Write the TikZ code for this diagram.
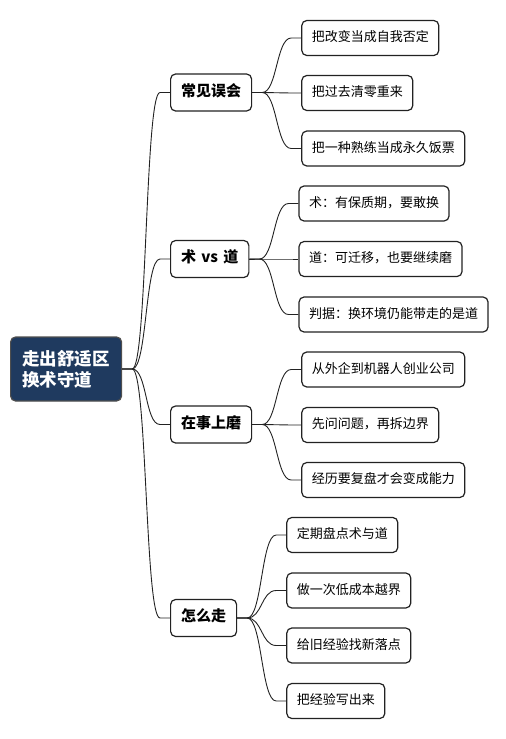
\documentclass[tikz,border=0pt]{standalone}
\usepackage{fontspec}
\setmainfont{Noto Sans CJK SC}
\usetikzlibrary{calc}
\definecolor{navy}{HTML}{1F3A5F}
\definecolor{edge}{HTML}{222222}
\begin{document}
\begin{tikzpicture}[x=1pt,y=-1pt,
  rootbox/.style={draw=edge!80, line width=1.2pt, fill=navy, rounded corners=5pt,
    text=white, font=\fontsize{17.5}{21}\selectfont\bfseries, align=left,
    text width=88pt, inner xsep=11.5pt, inner ysep=0pt, minimum height=64pt, anchor=west},
  topic/.style={draw=edge, line width=1.2pt, fill=white, rounded corners=5pt,
    font=\fontsize{15}{18}\selectfont\bfseries, inner xsep=10.5pt, inner ysep=0pt,
    text height=0.84em, text depth=0.1em, minimum height=37pt, anchor=west},
  leaf/.style={draw=edge, line width=1.2pt, fill=white, rounded corners=5pt,
    font=\fontsize{13}{16}\selectfont, inner xsep=10pt, inner ysep=0pt,
    text height=0.84em, text depth=0.1em, minimum height=35pt, anchor=west},
  link/.style={draw=edge, line width=0.9pt, to path={-- ++(10pt,0)
    .. controls +(15pt,0) and +(-15pt,0) .. ($(\tikztotarget)+(-10pt,0)$) -- (\tikztotarget)}}
]
\useasboundingbox (0,0) rectangle (506,739);

\node[rootbox] (r) at (10,369) {走出舒适区\\换术守道};

\node[topic] (a1) at (170,92.5) {常见误会};
\node[topic, minimum width=78pt] (a2) at (170,259) {术\hspace{0.35em}vs\hspace{0.35em}道};
\node[topic] (a3) at (170,424.5) {在事上磨};
\node[topic] (a4) at (170,618) {怎么走};

\foreach \t in {a1,a2,a3,a4} \draw[link] (r.east) to (\t.west);

\node[leaf] (b11) at ($(a1.east |- 0,38)+(49,0)$) {把改变当成自我否定};
\node[leaf] (b12) at ($(a1.east |- 0,93)+(49,0)$) {把过去清零重来};
\node[leaf] (b13) at ($(a1.east |- 0,148.5)+(49,0)$) {把一种熟练当成永久饭票};

\node[leaf] (b21) at ($(a2.east |- 0,203.5)+(49,0)$) {术：有保质期，要敢换};
\node[leaf] (b22) at ($(a2.east |- 0,259)+(49,0)$) {道：可迁移，也要继续磨};
\node[leaf] (b23) at ($(a2.east |- 0,314.5)+(49,0)$) {判据：换环境仍能带走的是道};

\node[leaf] (b31) at ($(a3.east |- 0,369.5)+(49,0)$) {从外企到机器人创业公司};
\node[leaf] (b32) at ($(a3.east |- 0,425)+(49,0)$) {先问问题，再拆边界};
\node[leaf] (b33) at ($(a3.east |- 0,480)+(49,0)$) {经历要复盘才会变成能力};

\node[leaf] (b41) at ($(a4.east |- 0,535)+(49,0)$) {定期盘点术与道};
\node[leaf] (b42) at ($(a4.east |- 0,590.5)+(49,0)$) {做一次低成本越界};
\node[leaf] (b43) at ($(a4.east |- 0,645.5)+(49,0)$) {给旧经验找新落点};
\node[leaf] (b44) at ($(a4.east |- 0,701)+(49,0)$) {把经验写出来};

\foreach \t in {b11,b12,b13} \draw[link] (a1.east) to (\t.west);
\foreach \t in {b21,b22,b23} \draw[link] (a2.east) to (\t.west);
\foreach \t in {b31,b32,b33} \draw[link] (a3.east) to (\t.west);
\foreach \t in {b41,b42,b43,b44} \draw[link] (a4.east) to (\t.west);
\end{tikzpicture}
\end{document}
